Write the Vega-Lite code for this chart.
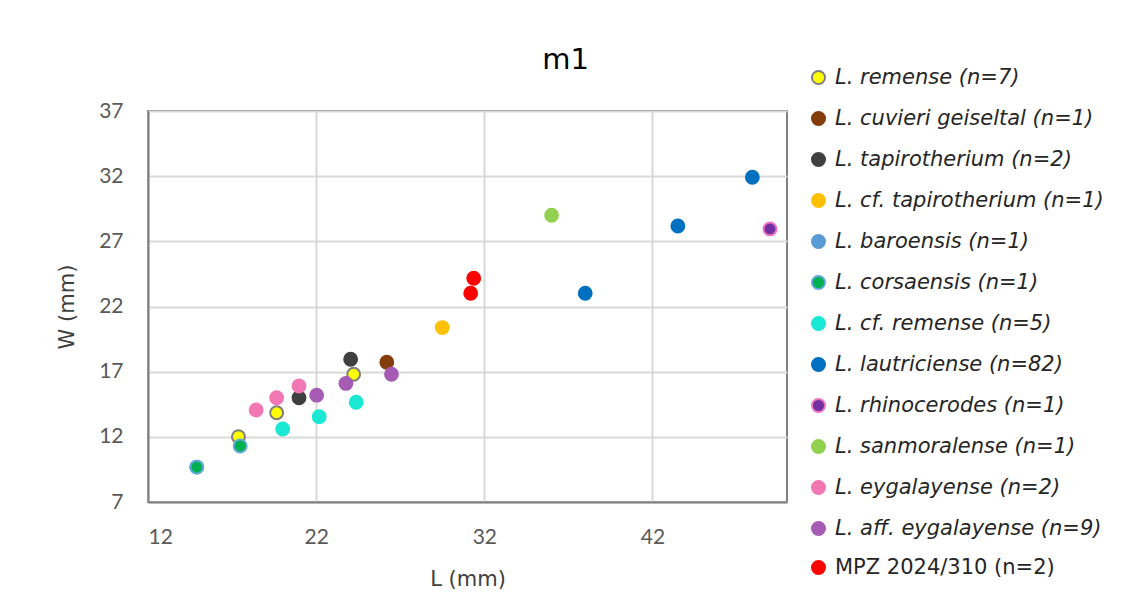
{
  "$schema": "https://vega.github.io/schema/vega-lite/v6.json",
  "autosize": {"type": "none"},
  "padding": {"left": 148, "top": 111, "right": 339, "bottom": 109},
  "width": 639,
  "height": 391,
  "background": "white",
  "title": {
    "text": "m1",
    "fontSize": 29,
    "font": "DejaVu Sans",
    "fontWeight": "normal",
    "color": "#000000",
    "anchor": "middle",
    "frame": "group",
    "dx": 98,
    "offset": -8
  },
  "data": {
    "values": [
      {"series": "L. remense (n=7)", "L": 17.38, "W": 12.01},
      {"series": "L. remense (n=7)", "L": 19.65, "W": 13.85},
      {"series": "L. remense (n=7)", "L": 24.23, "W": 16.8},
      {"series": "L. cuvieri geiseltal (n=1)", "L": 26.2, "W": 17.72},
      {"series": "L. tapirotherium (n=2)", "L": 20.98, "W": 15.0},
      {"series": "L. tapirotherium (n=2)", "L": 24.05, "W": 17.95},
      {"series": "L. cf. tapirotherium (n=1)", "L": 29.5, "W": 20.38},
      {"series": "L. baroensis (n=1)", "L": 14.9, "W": 9.68},
      {"series": "L. corsaensis (n=1)", "L": 14.9, "W": 9.68},
      {"series": "L. corsaensis (n=1)", "L": 17.48, "W": 11.3},
      {"series": "L. cf. remense (n=5)", "L": 20.01, "W": 12.6},
      {"series": "L. cf. remense (n=5)", "L": 22.18, "W": 13.55},
      {"series": "L. cf. remense (n=5)", "L": 24.38, "W": 14.65},
      {"series": "L. lautriciense (n=82)", "L": 38.0, "W": 23.02},
      {"series": "L. lautriciense (n=82)", "L": 43.51, "W": 28.18},
      {"series": "L. lautriciense (n=82)", "L": 47.94, "W": 31.92},
      {"series": "L. rhinocerodes (n=1)", "L": 48.99, "W": 27.95},
      {"series": "L. sanmoralense (n=1)", "L": 36.0, "W": 29.0},
      {"series": "L. eygalayense (n=2)", "L": 18.43, "W": 14.06},
      {"series": "L. eygalayense (n=2)", "L": 19.65, "W": 15.0},
      {"series": "L. eygalayense (n=2)", "L": 20.98, "W": 15.9},
      {"series": "L. aff. eygalayense (n=9)", "L": 22.03, "W": 15.2},
      {"series": "L. aff. eygalayense (n=9)", "L": 23.77, "W": 16.1},
      {"series": "L. aff. eygalayense (n=9)", "L": 26.48, "W": 16.8},
      {"series": "MPZ 2024/310 (n=2)", "L": 31.37, "W": 24.17},
      {"series": "MPZ 2024/310 (n=2)", "L": 31.19, "W": 23.02}
    ]
  },
  "encoding": {
    "x": {
      "field": "L", "type": "quantitative",
      "scale": {"domain": [12, 50], "nice": false, "zero": false},
      "axis": {
        "title": "L (mm)", "values": [12, 22, 32, 42],
        "ticks": false, "labelPadding": 24, "labelFontSize": 21, "labelColor": "#595959", "labelFont": "Lato",
        "titleFontSize": 21, "titleFont": "DejaVu Sans", "titleFontWeight": "normal", "titleColor": "#404040", "titlePadding": 21,
        "domainColor": "#808080", "domainWidth": 2,
        "gridColor": "#D9D9D9", "gridWidth": 2
      }
    },
    "y": {
      "field": "W", "type": "quantitative",
      "scale": {"domain": [7, 37], "nice": false, "zero": false},
      "axis": {
        "title": "W (mm)", "values": [7, 12, 17, 22, 27, 32, 37],
        "ticks": false, "labelPadding": 25, "labelFontSize": 21, "labelColor": "#595959", "labelFont": "Lato",
        "titleFontSize": 21, "titleFont": "DejaVu Sans", "titleFontWeight": "normal", "titleColor": "#404040", "titlePadding": 21,
        "domainColor": "#808080", "domainWidth": 2,
        "gridColor": "#D9D9D9", "gridWidth": 2
      }
    }
  },
  "layer": [
    {
      "transform": [{"filter": "datum.series != 'MPZ 2024/310 (n=2)'"}],
      "mark": {"type": "point", "shape": "circle", "filled": true, "opacity": 1, "size": 165, "strokeWidth": 2},
      "encoding": {
        "fill": {
          "field": "series", "type": "nominal",
          "scale": {
            "domain": ["L. remense (n=7)", "L. cuvieri geiseltal (n=1)", "L. tapirotherium (n=2)", "L. cf. tapirotherium (n=1)", "L. baroensis (n=1)", "L. corsaensis (n=1)", "L. cf. remense (n=5)", "L. lautriciense (n=82)", "L. rhinocerodes (n=1)", "L. sanmoralense (n=1)", "L. eygalayense (n=2)", "L. aff. eygalayense (n=9)"],
            "range": ["#FFFF00", "#843C0C", "#404040", "#FFC000", "#5B9BD5", "#00B050", "#19E8D4", "#0070C0", "#7030A0", "#92D050", "#F277B5", "#A65CB4"]
          },
          "legend": {
            "title": null,
            "orient": "none",
            "legendX": 660,
            "legendY": -44,
            "symbolType": "circle",
            "symbolSize": 170,
            "symbolStrokeWidth": 2,
            "labelFontSize": 21,
            "labelFont": "DejaVu Sans",
            "labelFontStyle": "italic",
            "labelColor": "#262626",
            "labelLimit": 400,
            "labelOffset": 6,
            "rowPadding": 18
          }
        },
        "stroke": {
          "field": "series", "type": "nominal",
          "scale": {
            "domain": ["L. remense (n=7)", "L. cuvieri geiseltal (n=1)", "L. tapirotherium (n=2)", "L. cf. tapirotherium (n=1)", "L. baroensis (n=1)", "L. corsaensis (n=1)", "L. cf. remense (n=5)", "L. lautriciense (n=82)", "L. rhinocerodes (n=1)", "L. sanmoralense (n=1)", "L. eygalayense (n=2)", "L. aff. eygalayense (n=9)"],
            "range": ["#7F7F7F", "#843C0C", "#404040", "#FFC000", "#5B9BD5", "#5FA8D8", "#19E8D4", "#0070C0", "#F070C0", "#92D050", "#F277B5", "#A65CB4"]
          },
          "legend": null
        }
      }
    },
    {
      "transform": [{"filter": "datum.series == 'MPZ 2024/310 (n=2)'"}],
      "mark": {"type": "point", "shape": "circle", "filled": true, "opacity": 1, "size": 165, "strokeWidth": 2, "stroke": "#FF0000"},
      "encoding": {
        "color": {
          "field": "series", "type": "nominal",
          "scale": {"domain": ["MPZ 2024/310 (n=2)"], "range": ["#FF0000"]},
          "legend": {
            "title": null,
            "orient": "none",
            "legendX": 660,
            "legendY": 446,
            "symbolType": "circle",
            "symbolSize": 170,
            "symbolStrokeWidth": 2,
            "symbolStrokeColor": "#FF0000",
            "labelFontSize": 21,
            "labelFont": "DejaVu Sans",
            "labelFontStyle": "normal",
            "labelColor": "#262626",
            "labelLimit": 400,
            "labelOffset": 6
          }
        }
      }
    }
  ],
  "config": {
    "view": {"stroke": "#808080", "strokeWidth": 2},
    "font": "Lato"
  }
}
